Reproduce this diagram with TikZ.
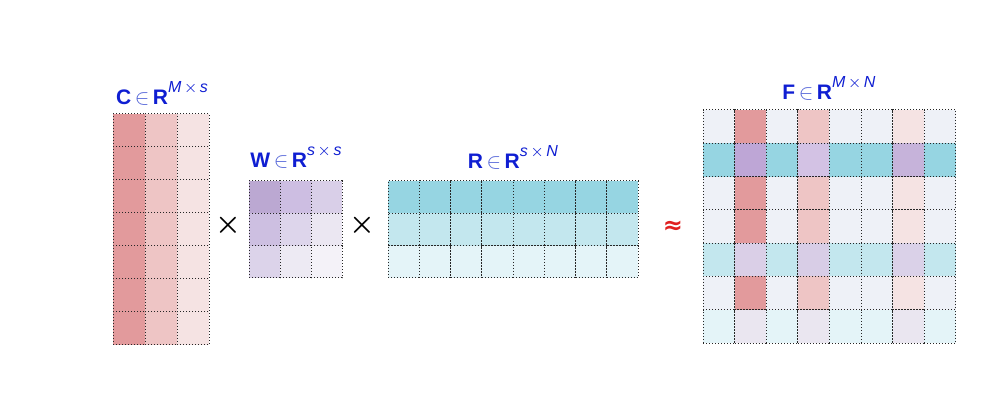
\documentclass[tikz,border=0pt]{standalone}
\usepackage{amsmath}
\usepackage{amssymb}
\usepackage{fontspec}
\setmainfont{Liberation Sans}
\newfontfamily\symfont{DejaVu Sans}
\usetikzlibrary{positioning}

% cell colours
\definecolor{ra}{HTML}{E29A9C}
\definecolor{rb}{HTML}{EEC5C5}
\definecolor{rc}{HTML}{F5E3E3}
\definecolor{ca}{HTML}{96D5E2}
\definecolor{cb}{HTML}{C3E7EE}
\definecolor{cc}{HTML}{E4F4F8}
\definecolor{fb}{HTML}{EEF1F7}
\definecolor{wa}{HTML}{BBA8D2}
\definecolor{wb}{HTML}{CDBEE2}
\definecolor{wc}{HTML}{D9CFE8}
\definecolor{wd}{HTML}{CDBFE1}
\definecolor{we}{HTML}{DDD5EB}
\definecolor{wf}{HTML}{EBE7F2}
\definecolor{wg}{HTML}{DCD3EA}
\definecolor{wh}{HTML}{EDEAF3}
\definecolor{wi}{HTML}{F4F2F8}
\definecolor{pa}{HTML}{BEA6D6}
\definecolor{pb}{HTML}{D3C2E4}
\definecolor{pc}{HTML}{C6B3DA}
\definecolor{qa}{HTML}{DACFE7}
\definecolor{qb}{HTML}{D8CDE6}
\definecolor{qc}{HTML}{DAD1E8}
\definecolor{sa}{HTML}{EAE6F0}
\definecolor{lblblue}{HTML}{0F1ED2}
\definecolor{inblue}{HTML}{5566D8}
\definecolor{approxred}{HTML}{E02020}

\newcommand{\matlabel}[2]{#1\,{\color{inblue}$\in$}\,R\raisebox{6pt}{\fontsize{8}{8}\selectfont\mdseries\itshape #2}}

\tikzset{
	cell/.style={draw=black!85, densely dotted, line width=0.5pt, inner sep=0pt, outer sep=0pt},
	lbl/.style={text=lblblue, font=\fontsize{10.5}{12}\selectfont\bfseries, anchor=base, inner sep=0pt},
	op/.style={font=\fontsize{15}{15}\selectfont, inner sep=0pt}
}

\begin{document}
\begin{tikzpicture}[x=0.5pt, y=-0.5pt]
	\useasboundingbox (0,0) rectangle (1002,416);
	% C
	\foreach \r in {1,...,7}
		\foreach \col [count=\c] in {ra,rb,rc}
			\node[cell, fill=\col, minimum width=16pt, minimum height=16.5pt] (C-\r-\c) at ({113+(\c-0.5)*32},{114+(\r-0.5)*33}) {};
	% W
	\foreach \r/\cols in {1/{wa,wb,wc}, 2/{wd,we,wf}, 3/{wg,wh,wi}}
		\foreach \col [count=\c] in \cols
			\node[cell, fill=\col, minimum width=15.5pt, minimum height=16.15pt] (W-\r-\c) at ({249+(\c-0.5)*31},{181+(\r-0.5)*32.3}) {};
	% R
	\foreach \col [count=\r] in {ca,cb,cc}
		\foreach \c in {1,...,8}
			\node[cell, fill=\col, minimum width=15.625pt, minimum height=16.15pt] (R-\r-\c) at ({388+(\c-0.5)*31.25},{181+(\r-0.5)*32.3}) {};
	% F
	\foreach \r/\cols in {1/{fb,ra,fb,rb,fb,fb,rc,fb}, 2/{ca,pa,ca,pb,ca,ca,pc,ca},
			3/{fb,ra,fb,rb,fb,fb,rc,fb}, 4/{fb,ra,fb,rb,fb,fb,rc,fb},
			5/{cb,qa,cb,qb,cb,cb,qc,cb}, 6/{fb,ra,fb,rb,fb,fb,rc,fb},
			7/{cc,sa,cc,sa,cc,cc,sa,cc}}
		\foreach \col [count=\c] in \cols
			\node[cell, fill=\col, minimum width=15.8pt, minimum height=16.65pt] (F-\r-\c) at ({703+(\c-0.5)*31.6},{110+(\r-0.5)*33.3}) {};

	% labels
	\node[lbl] (Clabel) at (162,105) {\matlabel{C}{M\,$\times$\,s}};
	\node[lbl] (Wlabel) at (296,168) {\matlabel{W}{s\,$\times$\,s}};
	\node[lbl] (Rlabel) at (513,169) {\matlabel{R}{s\,$\times$\,N}};
	\node[lbl] (Flabel) at (829,100) {\matlabel{F}{M\,$\times$\,N}};

	% operators
	\node[op] (times1) at (228,225) {$\boldsymbol{\times}$};
	\node[op] (times2) at (362,225) {$\boldsymbol{\times}$};
	\node[op, font=\symfont\bfseries\fontsize{12}{12}\selectfont, text=approxred] (approx) at (673,227) {≈};
\end{tikzpicture}
\end{document}
